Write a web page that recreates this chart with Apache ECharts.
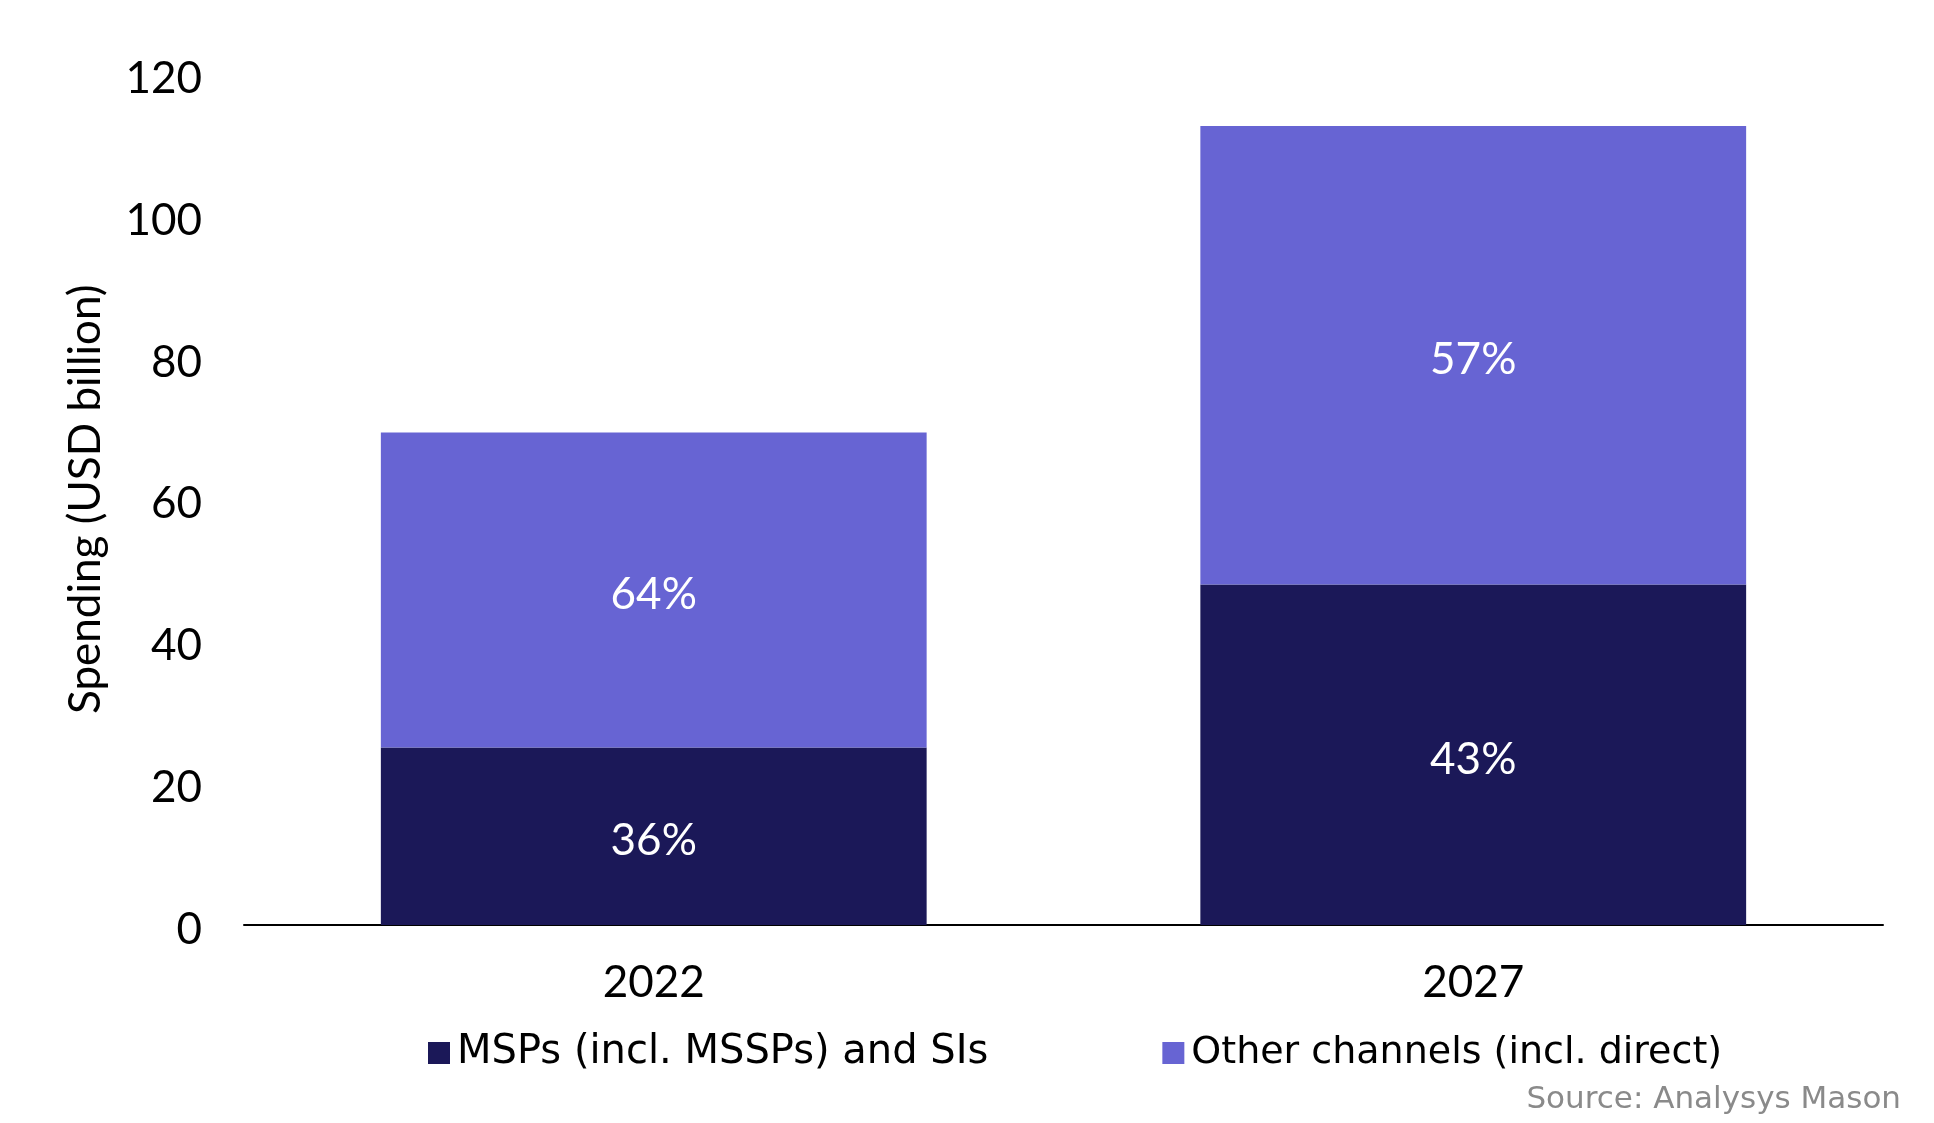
<!DOCTYPE html>
<html>
<head>
<meta charset="utf-8">
<script src="https://cdn.jsdelivr.net/npm/echarts@6/dist/echarts.min.js"></script>
<style>html,body{margin:0;padding:0;background:#fff;}#c{width:1934px;height:1123px;}</style>
</head>
<body>
<div id="c"></div>
<script>
const categories = ['2022', '2027'];
const seriesNames = ['MSPs (incl. MSSPs) and SIs', 'Other channels (incl. direct)'];
const mspValues = [25, 48];
const otherValues = [44.4, 64.6];
const mspLabels = ['36%', '43%'];
const otherLabels = ['64%', '57%'];
const yTicks = [0, 20, 40, 60, 80, 100, 120];

const FONT = 'Lato';
const WIDE = 'DejaVu Sans';
const chart = echarts.init(document.getElementById('c'));
function withLabels(vals, labels) {
  return vals.map((v, i) => ({ value: v, label: { formatter: labels[i] } }));
}
chart.setOption({
  animation: false,
  textStyle: { fontFamily: FONT },
  grid: { left: 244, right: 51, top: 73.5, bottom: 1123 - 925 },
  legend: {
    left: 423, top: 1028,
    itemWidth: 22, itemHeight: 22, itemGap: 174,
    icon: 'rect',
    textStyle: { fontSize: 40, color: '#000', fontFamily: WIDE, padding: [0, 0, 0, 2] },
    data: [
      { name: seriesNames[0] },
      { name: seriesNames[1], textStyle: { fontSize: 38 } }
    ]
  },
  xAxis: {
    type: 'category', data: categories,
    axisLine: { lineStyle: { color: '#000', width: 2 } },
    axisTick: { show: false },
    axisLabel: { fontSize: 44, color: '#000', margin: 36, fontFamily: FONT }
  },
  yAxis: {
    type: 'value', min: yTicks[0], max: yTicks[yTicks.length - 1], interval: 20,
    name: 'Spending (USD billion)', nameLocation: 'middle', nameGap: 136,
    nameTextStyle: { fontSize: 44, color: '#000', fontFamily: FONT },
    axisLine: { show: false }, axisTick: { show: false }, splitLine: { show: false },
    axisLabel: {
      margin: 42, formatter: '{a|{value}}',
      rich: { a: { fontSize: 44, color: '#000', fontFamily: FONT, padding: [10, 0, 0, 0] } }
    }
  },
  graphic: [{
    type: 'text', right: 33, top: 1084,
    style: { text: 'Source: Analysys Mason', fontSize: 31, fill: '#8a8a8a', fontFamily: WIDE }
  }],
  series: [
    {
      name: seriesNames[0], type: 'bar', stack: 't', barWidth: '66.6%',
      itemStyle: { color: '#1b1858' },
      label: { show: true, position: 'inside', color: '#fff', fontSize: 44, fontFamily: FONT, offset: [0, 5] },
      data: withLabels(mspValues, mspLabels)
    },
    {
      name: seriesNames[1], type: 'bar', stack: 't', barWidth: '66.6%',
      itemStyle: { color: '#6764d3' },
      label: { show: true, position: 'inside', color: '#fff', fontSize: 44, fontFamily: FONT, offset: [0, 5] },
      data: withLabels(otherValues, otherLabels)
    }
  ]
});
</script>
</body>
</html>
